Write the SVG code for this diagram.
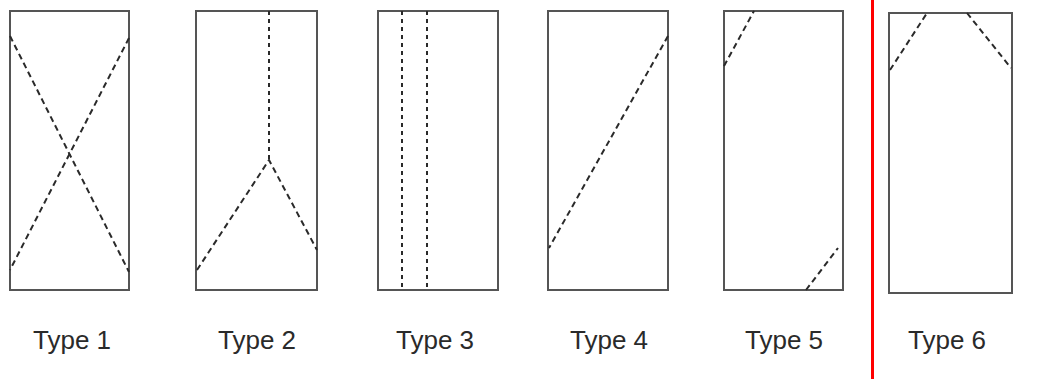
<svg xmlns="http://www.w3.org/2000/svg" width="1040" height="379" viewBox="0 0 1040 379">
<style>
.box{fill:#fff;stroke:#555;stroke-width:2}
.dash{fill:none;stroke:#2a2a2a;stroke-width:2;stroke-dasharray:6 4}
.dot{fill:none;stroke:#2a2a2a;stroke-width:2;stroke-dasharray:4 4}
.lbl{font-family:"Liberation Sans",Arial,sans-serif;font-size:26px;fill:#2a2a2a;text-anchor:middle}
</style>
<rect width="1040" height="379" fill="#fff"/>
<g id="type1">
<rect class="box" x="10" y="11" width="119" height="279"/>
<line class="dash" x1="10" y1="36" x2="129" y2="272"/>
<line class="dash" x1="129" y1="38" x2="10" y2="270"/>
<text class="lbl" x="72" y="349">Type 1</text>
</g>
<g id="type2">
<rect class="box" x="196" y="11" width="121" height="279"/>
<line class="dot" x1="269" y1="11" x2="269" y2="160"/>
<polyline class="dash" points="197,270 269,160 317,250"/>
<text class="lbl" x="257" y="349">Type 2</text>
</g>
<g id="type3">
<rect class="box" x="378" y="11" width="120" height="279"/>
<line class="dot" x1="402" y1="11" x2="402" y2="290"/>
<line class="dot" x1="427" y1="11" x2="427" y2="290"/>
<text class="lbl" x="435" y="349">Type 3</text>
</g>
<g id="type4">
<rect class="box" x="548" y="11" width="120" height="279"/>
<line class="dash" x1="668" y1="36" x2="549" y2="248"/>
<text class="lbl" x="609" y="349">Type 4</text>
</g>
<g id="type5">
<rect class="box" x="724" y="11" width="119" height="279"/>
<line class="dash" x1="724" y1="66" x2="754" y2="11"/>
<line class="dash" x1="806" y1="290" x2="838" y2="248"/>
<text class="lbl" x="784" y="349">Type 5</text>
</g>
<g id="type6">
<rect class="box" x="889" y="13" width="123" height="280"/>
<line class="dash" x1="890" y1="70" x2="927" y2="13"/>
<line class="dash" x1="967" y1="13" x2="1011" y2="68"/>
<text class="lbl" x="947" y="349">Type 6</text>
</g>
<g id="connectors">
<line x1="872.5" y1="0" x2="872.5" y2="379" stroke="#f00" stroke-width="3"/>
</g>
</svg>
